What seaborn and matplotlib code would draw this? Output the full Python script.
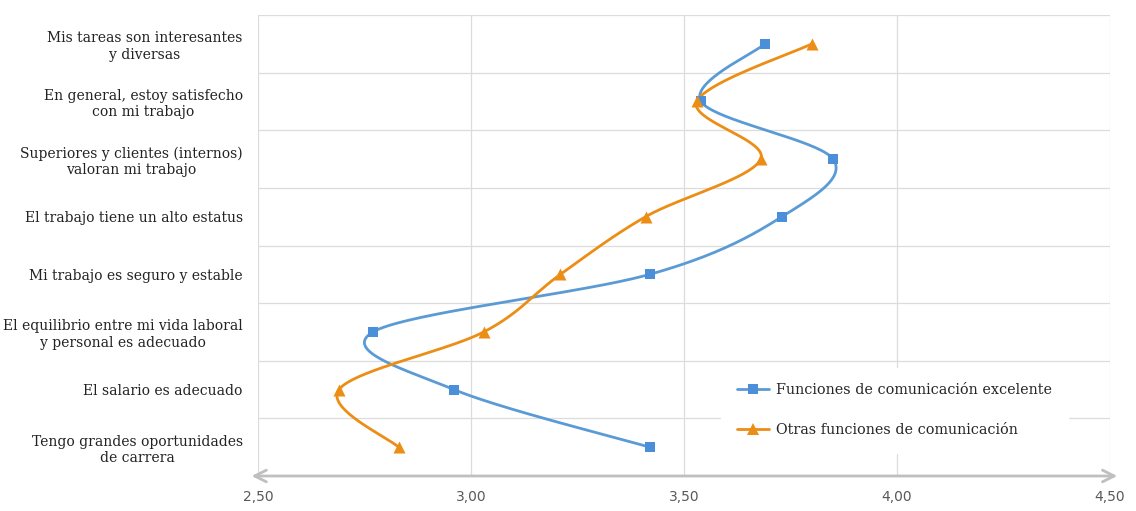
import numpy as np
import pandas as pd
import matplotlib
matplotlib.use("Agg")
import matplotlib.pyplot as plt
from matplotlib.lines import Line2D
import seaborn as sns

# ---- data ----
categories = [
    "Mis tareas son interesantes\ny diversas",
    "En general, estoy satisfecho\ncon mi trabajo",
    "Superiores y clientes (internos)\nvaloran mi trabajo",
    "El trabajo tiene un alto estatus",
    "Mi trabajo es seguro y estable",
    "El equilibrio entre mi vida laboral\ny personal es adecuado",
    "El salario es adecuado",
    "Tengo grandes oportunidades\nde carrera",
]
excelente = [3.69, 3.54, 3.85, 3.73, 3.42, 2.77, 2.96, 3.42]
otras = [3.80, 3.53, 3.68, 3.41, 3.21, 3.03, 2.69, 2.83]
series_names = ["Funciones de comunicación excelente", "Otras funciones de comunicación"]
x_ticks = [2.50, 3.00, 3.50, 4.00, 4.50]
x_tick_labels = ["2,50", "3,00", "3,50", "4,00", "4,50"]

BLUE_LINE = "#5B9BD5"
BLUE_MARK = "#4A8FD8"
ORANGE = "#EC8D16"
GRID = "#DCDCDC"
AXIS = "#BFBFBF"


def smooth_curve(xs, ys, sx=426.0, sy=57.6, n=40):
    """Catmull-Rom style Bezier smoothing computed in screen-proportional space."""
    P = np.column_stack([np.asarray(xs) * sx, np.asarray(ys) * sy])
    pts = [P[0]] + list(P) + [P[-1]]
    out = []
    t = np.linspace(0, 1, n)
    for i in range(1, len(pts) - 2):
        p0, p1, p2, p3 = pts[i - 1], pts[i], pts[i + 1], pts[i + 2]
        c1 = p1 + (p2 - p0) / 6.0
        c2 = p2 - (p3 - p1) / 6.0
        seg = ((1 - t) ** 3)[:, None] * p1 + (3 * (1 - t) ** 2 * t)[:, None] * c1 \
            + (3 * (1 - t) * t ** 2)[:, None] * c2 + (t ** 3)[:, None] * p2
        out.append(seg if i == 1 else seg[1:])
    curve = np.vstack(out)
    return curve[:, 0] / sx, curve[:, 1] / sy


sns.set_theme(style="white")
plt.rcParams["font.family"] = ["DejaVu Serif"]

fig = plt.figure(figsize=(11.36, 5.11), dpi=100)
ax = fig.add_axes([0.2271, 0.0685, 0.9771 - 0.2271, 0.9706 - 0.0685])

ypos = np.arange(len(categories))

for vals, name, lc, mc, mk, ms in [
    (excelente, series_names[0], BLUE_LINE, BLUE_MARK, "s", 60),
    (otras, series_names[1], ORANGE, ORANGE, "^", 75),
]:
    cx, cy = smooth_curve(vals, ypos)
    sns.lineplot(x=cx, y=cy, sort=False, estimator=None, color=lc, lw=2.0, ax=ax, zorder=3)
    sns.scatterplot(x=vals, y=ypos, marker=mk, s=ms, color=mc, edgecolor=mc, linewidth=0, ax=ax, zorder=4)

ax.set_xlim(2.5, 4.5)
ax.set_ylim(len(categories) - 0.5, -0.5)

# grid: vertical at x ticks, horizontal at category boundaries
for xv in x_ticks:
    ax.axvline(xv, color=GRID, lw=0.9, zorder=0)
for b in np.arange(-0.5, len(categories) - 0.5, 1.0):
    ax.axhline(b, color=GRID, lw=0.9, zorder=0)

for s in ax.spines.values():
    s.set_visible(False)

# bottom axis drawn as a double-headed arrow
ax.annotate("", xy=(2.485, len(categories) - 0.5), xytext=(4.517, len(categories) - 0.5),
            xycoords="data", textcoords="data", annotation_clip=False,
            arrowprops=dict(arrowstyle="<->,head_length=0.7,head_width=0.35",
                            color=AXIS, lw=2.0, shrinkA=0, shrinkB=0), zorder=2)

ax.set_xticks(x_ticks)
ax.set_xticklabels(x_tick_labels, family=["DejaVu Sans"], fontsize=10, color="#595959")
ax.tick_params(axis="x", length=0, pad=10)

ax.set_yticks(ypos)
ax.set_yticklabels(categories, fontsize=10.0, color="#222222")
ax.tick_params(axis="y", length=0, pad=11)
for lab in ax.get_yticklabels():
    lab.set_multialignment("center")
    lab.set_linespacing(1.2)

ax.set_xlabel("")
ax.set_ylabel("")

handles = [
    Line2D([0], [0], color=BLUE_LINE, lw=2.0, marker="s", markersize=7,
           markerfacecolor=BLUE_MARK, markeredgewidth=0),
    Line2D([0], [0], color=ORANGE, lw=2.0, marker="^", markersize=8,
           markerfacecolor=ORANGE, markeredgewidth=0),
]
leg = ax.legend(handles, series_names, loc="lower left", bbox_to_anchor=(0.535, 0.035),
                frameon=True, fontsize=10.4, labelspacing=1.75, handlelength=2.2,
                handletextpad=0.5, borderpad=1.1, fancybox=False)
leg.get_frame().set_facecolor("white")
leg.get_frame().set_edgecolor("white")
leg.get_frame().set_alpha(1.0)
leg.set_zorder(5)

fig.savefig("out.png", dpi=100, facecolor="white")
